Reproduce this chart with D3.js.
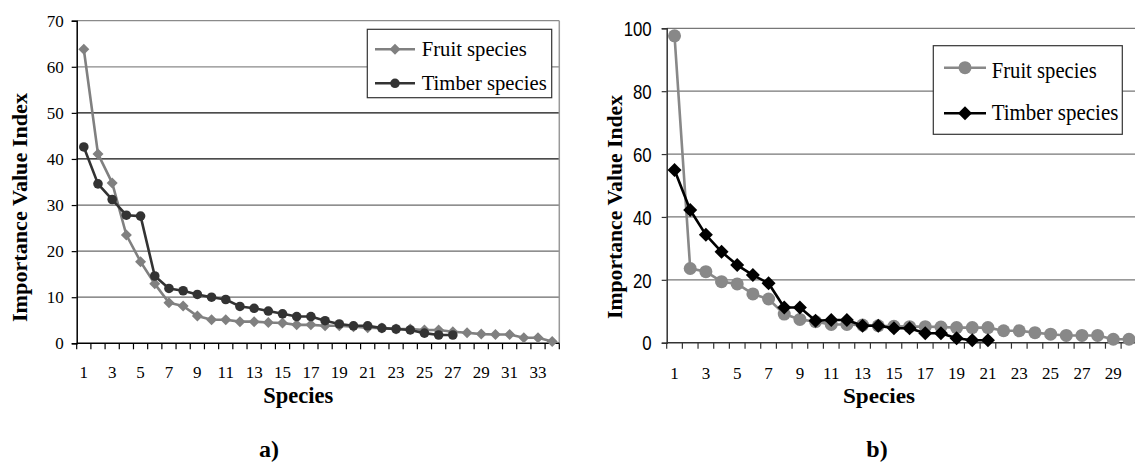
<!DOCTYPE html>
<html><head><meta charset="utf-8">
<script src="https://cdn.jsdelivr.net/npm/d3@7"></script>
<style>
html,body{margin:0;padding:0;background:#fff;}
svg{display:block;}
</style></head>
<body>
<svg id="c" width="1135" height="464"></svg>
<script>
// ---- Data ----
const speciesA = [1,2,3,4,5,6,7,8,9,10,11,12,13,14,15,16,17,18,19,20,21,22,23,24,25,26,27,28,29,30,31,32,33,34];
const fruitA = [63.8,41.1,34.8,23.5,17.7,12.9,8.8,8.1,5.9,5.1,5.1,4.7,4.7,4.5,4.4,4.0,4.0,3.8,3.8,3.6,3.4,3.3,3.1,3.1,2.9,2.9,2.5,2.3,2.0,1.9,1.9,1.2,1.2,0.4];
const timberA = [42.6,34.6,31.2,27.8,27.6,14.6,11.9,11.4,10.6,10.0,9.5,8.0,7.6,7.0,6.4,5.8,5.8,4.9,4.2,3.8,3.8,3.3,3.1,2.9,2.2,1.8,1.8];
const yTicksA = [0,10,20,30,40,50,60,70];

const speciesB = [1,2,3,4,5,6,7,8,9,10,11,12,13,14,15,16,17,18,19,20,21,22,23,24,25,26,27,28,29,30];
const fruitB = [97.6,23.6,22.6,19.4,18.7,15.5,13.9,9.1,7.4,6.7,5.8,5.8,5.6,5.4,5.2,5.1,5.1,5.0,4.8,4.8,4.8,3.8,3.8,3.2,2.7,2.3,2.3,2.3,1.1,1.1];
const timberB = [54.9,42.2,34.3,28.9,24.7,21.5,18.9,11.2,11.2,7.0,7.2,7.2,5.4,5.4,4.6,4.6,3.0,3.0,1.4,0.8,0.8];
const yTicksB = [0,20,40,60,80,100];

const seriesNames = ["Fruit species","Timber species"];
const xTitle = "Species";
const yTitle = "Importance Value Index";
const panelLabels = ["a)","b)"];

const svg = d3.select("#c");
const SERIF = "'Liberation Serif','Times New Roman',serif";
const SANS = "'Liberation Sans',Arial,sans-serif";

function fit(sel, w){ sel.attr("textLength", w).attr("lengthAdjust","spacingAndGlyphs"); }

function diamond(g, cx, cy, r, fill){
  g.append("path").attr("d", `M${cx},${cy-r}L${cx+r},${cy}L${cx},${cy+r}L${cx-r},${cy}Z`).attr("fill", fill);
}
function circle(g, cx, cy, r, fill){
  g.append("circle").attr("cx",cx).attr("cy",cy).attr("r",r).attr("fill",fill);
}

function drawChart(o){
  const g = svg.append("g");
  const x = d3.scaleBand().domain(o.cats).range([o.x0, o.x1]).padding(0);
  const y = d3.scaleLinear().domain([0, o.yMax]).range([o.yB, o.yT]);
  const cx = c => x(c) + x.bandwidth()/2;

  // gridlines
  o.yTicks.forEach(v => {
    if (v === 0) return;
    g.append("line").attr("x1", o.x0).attr("x2", o.x1).attr("y1", y(v)).attr("y2", y(v))
      .attr("stroke", o.gridColor(v)).attr("stroke-width", 1.2);
  });
  if (o.rightBorder) {
    g.append("line").attr("x1", o.x1).attr("x2", o.x1).attr("y1", o.yT).attr("y2", o.yB)
      .attr("stroke", "#999").attr("stroke-width", 1.5);
  }

  // y axis
  const ya = g.append("g").attr("transform", `translate(${o.x0},0)`)
    .call(d3.axisLeft(y).tickValues(o.yTicks).tickSize(5).tickPadding(o.yPad).tickFormat(d3.format("d")));
  ya.attr("font-family", o.yFont).attr("font-size", o.yFontSize);
  ya.select(".domain").attr("stroke", o.axisColor).attr("stroke-width", 1.5);
  ya.selectAll(".tick line").attr("stroke", o.axisColor).attr("stroke-width", 1.2);
  ya.selectAll(".tick text").attr("font-family", o.yFont).attr("font-size", o.yFontSize).attr("fill", "#000")
    .attr("dy", o.yDy);
  if (o.yLabelScale) ya.selectAll(".tick text").each(function(){
    const w = this.getComputedTextLength(); d3.select(this).call(fit, w*o.yLabelScale);
  });

  // x axis: ticks at category boundaries
  const xa = g.append("g");
  xa.append("line").attr("x1", o.x0).attr("x2", o.x1).attr("y1", o.yB).attr("y2", o.yB)
    .attr("stroke", o.axisColor).attr("stroke-width", 1.5);
  o.cats.forEach(c => {
    xa.append("line").attr("x1", x(c)).attr("x2", x(c)).attr("y1", o.yB).attr("y2", o.yB+6)
      .attr("stroke", o.axisColor).attr("stroke-width", 1.2);
  });
  xa.append("line").attr("x1", o.x1).attr("x2", o.x1).attr("y1", o.yB).attr("y2", o.yB+6)
      .attr("stroke", o.axisColor).attr("stroke-width", 1.2);
  const lab = g.append("g").attr("transform", `translate(0,${o.xLabY})`)
    .call(d3.axisBottom(x).tickValues(o.cats.filter(c => c % 2 === 1)).tickSize(0).tickPadding(0));
  lab.attr("font-family", SERIF).attr("font-size", o.xFontSize);
  lab.select(".domain").remove();
  lab.selectAll(".tick text").attr("font-family", SERIF).attr("font-size", o.xFontSize).attr("fill","#000").attr("dy", 0);

  // series
  o.series.forEach(s => {
    const pts = s.values.map((v,i) => [cx(o.cats[i]), y(v)]);
    g.append("path").attr("d", d3.line()(pts)).attr("fill","none").attr("stroke", s.color)
      .attr("stroke-width", s.lw).attr("stroke-linejoin","round");
    const mg = g.append("g");
    pts.forEach(p => s.marker(mg, p[0], p[1], s.size, s.color));
  });

  // legend
  const L = o.legend;
  g.append("rect").attr("x", L.x).attr("y", L.y).attr("width", L.w).attr("height", L.h)
    .attr("fill", "#fff").attr("stroke", "#333").attr("stroke-width", 1.2);
  o.series.forEach((s, i) => {
    const ly = L.rows[i];
    g.append("line").attr("x1", L.lx0).attr("x2", L.lx1).attr("y1", ly).attr("y2", ly)
      .attr("stroke", s.color).attr("stroke-width", s.lw);
    s.marker(g, (L.lx0+L.lx1)/2, ly, s.size, s.color);
    g.append("text").attr("x", L.tx).attr("y", L.base[i]).text(seriesNames[i])
      .attr("font-family", SERIF).attr("font-size", L.fs).attr("fill","#000").call(fit, L.tw[i]);
  });

  // titles
  g.append("text").attr("x", o.xTitle[0]).attr("y", o.xTitle[1]).attr("text-anchor","middle")
    .attr("font-family", SERIF).attr("font-weight","bold").attr("font-size", o.xTitle[2]).text(xTitle)
    .call(fit, o.xTitle[3]);
  g.append("text").attr("transform", `translate(${o.yTitle[0]},${o.yTitle[1]}) rotate(-90)`)
    .attr("text-anchor","middle").attr("font-family", SERIF).attr("font-weight","bold")
    .attr("font-size", o.yTitle[2]).text(yTitle).call(fit, o.yTitle[3]);
  g.append("text").attr("x", o.panel[0]).attr("y", o.panel[1]).attr("text-anchor","middle")
    .attr("font-family", SERIF).attr("font-weight","bold").attr("font-size", o.panel[2]).text(o.panelText);
}

drawChart({
  cats: speciesA, yMax: 70, yTicks: yTicksA,
  x0: 76.7, x1: 559.3, yT: 20.7, yB: 343.3,
  gridColor: v => (v >= 60 ? "#8a8a8a" : (v >= 40 ? "#111" : "#6a6a6a")),
  rightBorder: true, axisColor: "#000",
  yFont: SERIF, yFontSize: 17, yPad: 8, yDy: "0.32em",
  xLabY: 378, xFontSize: 17,
  series: [
    {values: fruitA, color: "#808080", lw: 2.6, size: 5.5, marker: diamond},
    {values: timberA, color: "#333333", lw: 2.6, size: 4.8, marker: circle}
  ],
  legend: {x: 367.3, y: 29.3, w: 184.4, h: 68.4, rows: [49.3, 83.3], base: [55.5, 90], lx0: 375, lx1: 415, tx: 421.7, fs: 21, tw: [105, 125]},
  xTitle: [298.3, 403.3, 23, 70],
  yTitle: [27, 207.5, 22, 229],
  panel: [269, 456.7, 24], panelText: panelLabels[0]
});

drawChart({
  cats: speciesB, yMax: 100, yTicks: yTicksB,
  x0: 666.7, x1: 666.7 + 30*15.67, yT: 28.3, yB: 342.7,
  gridColor: v => "#777",
  rightBorder: false, axisColor: "#333",
  yFont: SANS, yFontSize: 20, yPad: 10, yDy: "0.36em", yLabelScale: 0.84,
  xLabY: 379, xFontSize: 17,
  series: [
    {values: fruitB, color: "#888888", lw: 2.6, size: 6.5, marker: circle},
    {values: timberB, color: "#000000", lw: 2.6, size: 7, marker: diamond}
  ],
  legend: {x: 933.3, y: 45.7, w: 189, h: 88.6, rows: [67.7, 113.3], base: [77.5, 120], lx0: 944, lx1: 986, tx: 991.7, fs: 23, tw: [105, 126.7]},
  xTitle: [879, 403, 22, 72],
  yTitle: [622, 207, 22, 224],
  panel: [877, 456.7, 24], panelText: panelLabels[1]
});
</script>
</body></html>
